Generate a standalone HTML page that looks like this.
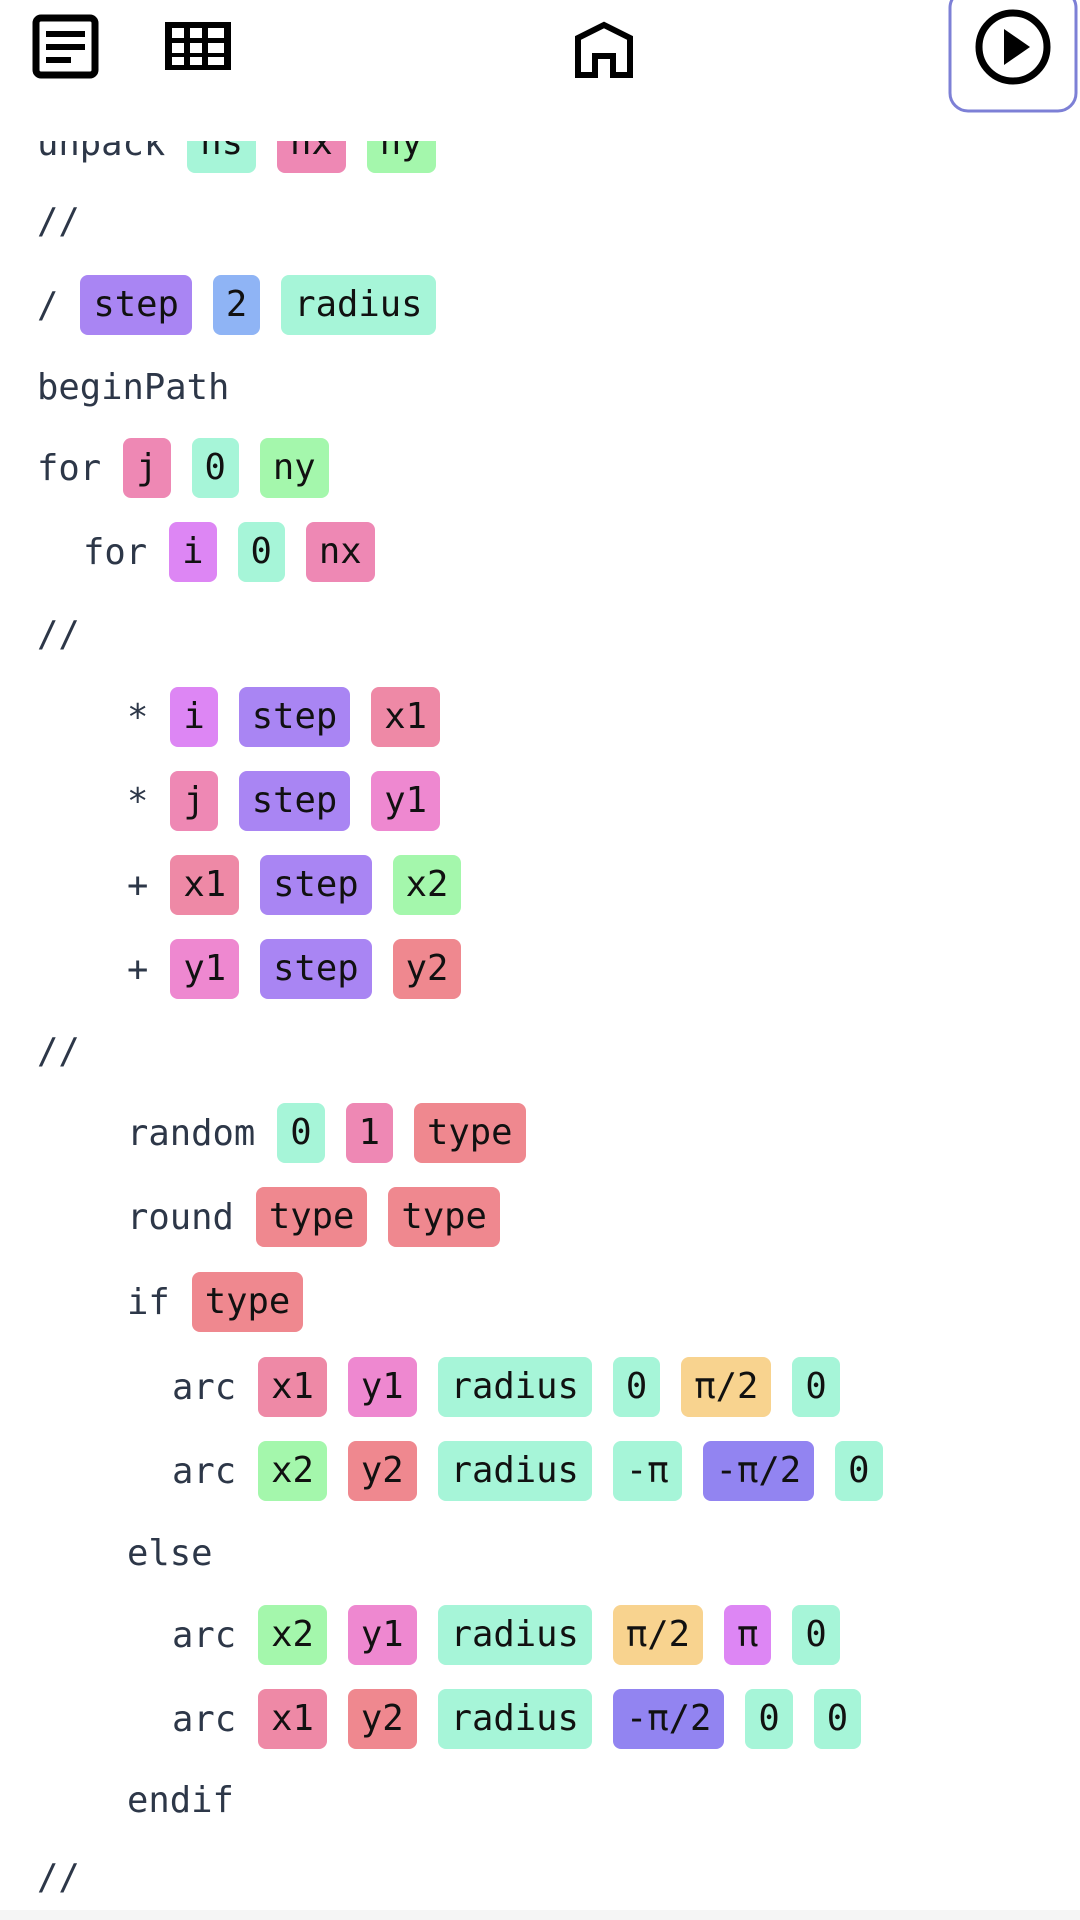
<!DOCTYPE html>
<html><head><meta charset="utf-8"><style>
html,body{margin:0;padding:0;background:#fff;}
body{width:1080px;height:1920px;position:relative;overflow:hidden;font-family:"DejaVu Sans Mono","Liberation Mono",monospace;font-size:35.5px;color:#2d3748;}
.row{position:absolute;height:60px;display:flex;align-items:center;white-space:pre;}
.k{margin-right:22px;}
.b{display:inline-block;height:60px;line-height:60px;padding:0 13px;border-radius:8px;margin-right:21px;color:#111;}
.te{background:#a6f5d8}.pk{background:#ee88b4}.gr{background:#a4f7ac}.pu{background:#a985f3}.bl{background:#8fb4f5}
.vi{background:#dd86f4}.rd{background:#ee89a6}.my{background:#ee88d0}.rr{background:#ef888f}.or{background:#f8d38f}.in{background:#9284f1}
#hdr{position:absolute;left:0;top:0;width:1080px;height:141px;background:#fff;z-index:5;}
</style></head><body>
<div class="row" style="top:113px;left:37px"><span class="k">unpack</span><span class="b te">ns</span><span class="b pk">nx</span><span class="b gr">ny</span></div>
<div id="hdr">
<svg width="1080" height="141" style="position:absolute;left:0;top:0">
<rect x="36" y="18" width="59" height="57" rx="5" fill="none" stroke="#000" stroke-width="7"/>
<rect x="46" y="31" width="39" height="6" fill="#000"/><rect x="46" y="44" width="39" height="6" fill="#000"/><rect x="46" y="57" width="25" height="6" fill="#000"/>
<rect x="165" y="22" width="66" height="48" fill="#000"/>
<g fill="#fff"><rect x="172" y="28" width="12" height="10"/><rect x="190" y="28" width="12" height="10"/><rect x="208" y="28" width="16" height="10"/>
<rect x="172" y="43" width="12" height="10"/><rect x="190" y="43" width="12" height="10"/><rect x="208" y="43" width="16" height="10"/>
<rect x="172" y="57" width="12" height="8"/><rect x="190" y="57" width="12" height="8"/><rect x="208" y="57" width="16" height="8"/></g>
<path d="M578 75 V38 L604 25 L630 38 V75 H613 V56 H595 V75 Z" fill="none" stroke="#000" stroke-width="6" stroke-linejoin="miter"/>
<rect x="950" y="-10" width="126" height="121" rx="18" fill="none" stroke="#7d80d6" stroke-width="3"/>
<circle cx="1013" cy="47" r="34" fill="none" stroke="#000" stroke-width="7"/>
<path d="M1004 29 L1030 47 L1004 65 Z" fill="#000"/>
</svg></div>
<div class="row" style="top:191px;left:37px"><span class="k">//</span></div>
<div class="row" style="top:275px;left:37px"><span class="k">/</span><span class="b pu">step</span><span class="b bl">2</span><span class="b te">radius</span></div>
<div class="row" style="top:357px;left:37px"><span class="k">beginPath</span></div>
<div class="row" style="top:438px;left:37px"><span class="k">for</span><span class="b pk">j</span><span class="b te">0</span><span class="b gr">ny</span></div>
<div class="row" style="top:522px;left:83px"><span class="k">for</span><span class="b vi">i</span><span class="b te">0</span><span class="b pk">nx</span></div>
<div class="row" style="top:604px;left:37px"><span class="k">//</span></div>
<div class="row" style="top:687px;left:127px"><span class="k">*</span><span class="b vi">i</span><span class="b pu">step</span><span class="b rd">x1</span></div>
<div class="row" style="top:771px;left:127px"><span class="k">*</span><span class="b pk">j</span><span class="b pu">step</span><span class="b my">y1</span></div>
<div class="row" style="top:855px;left:127px"><span class="k">+</span><span class="b rd">x1</span><span class="b pu">step</span><span class="b gr">x2</span></div>
<div class="row" style="top:939px;left:127px"><span class="k">+</span><span class="b my">y1</span><span class="b pu">step</span><span class="b rr">y2</span></div>
<div class="row" style="top:1021px;left:37px"><span class="k">//</span></div>
<div class="row" style="top:1103px;left:127px"><span class="k">random</span><span class="b te">0</span><span class="b pk">1</span><span class="b rr">type</span></div>
<div class="row" style="top:1187px;left:127px"><span class="k">round</span><span class="b rr">type</span><span class="b rr">type</span></div>
<div class="row" style="top:1272px;left:127px"><span class="k">if</span><span class="b rr">type</span></div>
<div class="row" style="top:1357px;left:172px"><span class="k">arc</span><span class="b rd">x1</span><span class="b my">y1</span><span class="b te">radius</span><span class="b te">0</span><span class="b or">π/2</span><span class="b te">0</span></div>
<div class="row" style="top:1441px;left:172px"><span class="k">arc</span><span class="b gr">x2</span><span class="b rr">y2</span><span class="b te">radius</span><span class="b te">-π</span><span class="b in">-π/2</span><span class="b te">0</span></div>
<div class="row" style="top:1523px;left:127px"><span class="k">else</span></div>
<div class="row" style="top:1605px;left:172px"><span class="k">arc</span><span class="b gr">x2</span><span class="b my">y1</span><span class="b te">radius</span><span class="b or">π/2</span><span class="b vi">π</span><span class="b te">0</span></div>
<div class="row" style="top:1689px;left:172px"><span class="k">arc</span><span class="b rd">x1</span><span class="b rr">y2</span><span class="b te">radius</span><span class="b in">-π/2</span><span class="b te">0</span><span class="b te">0</span></div>
<div class="row" style="top:1770px;left:127px"><span class="k">endif</span></div>
<div class="row" style="top:1847px;left:37px"><span class="k">//</span></div>
<div style="position:absolute;left:0;top:1910px;width:1080px;height:10px;background:#f5f5f5"></div>
</body></html>
